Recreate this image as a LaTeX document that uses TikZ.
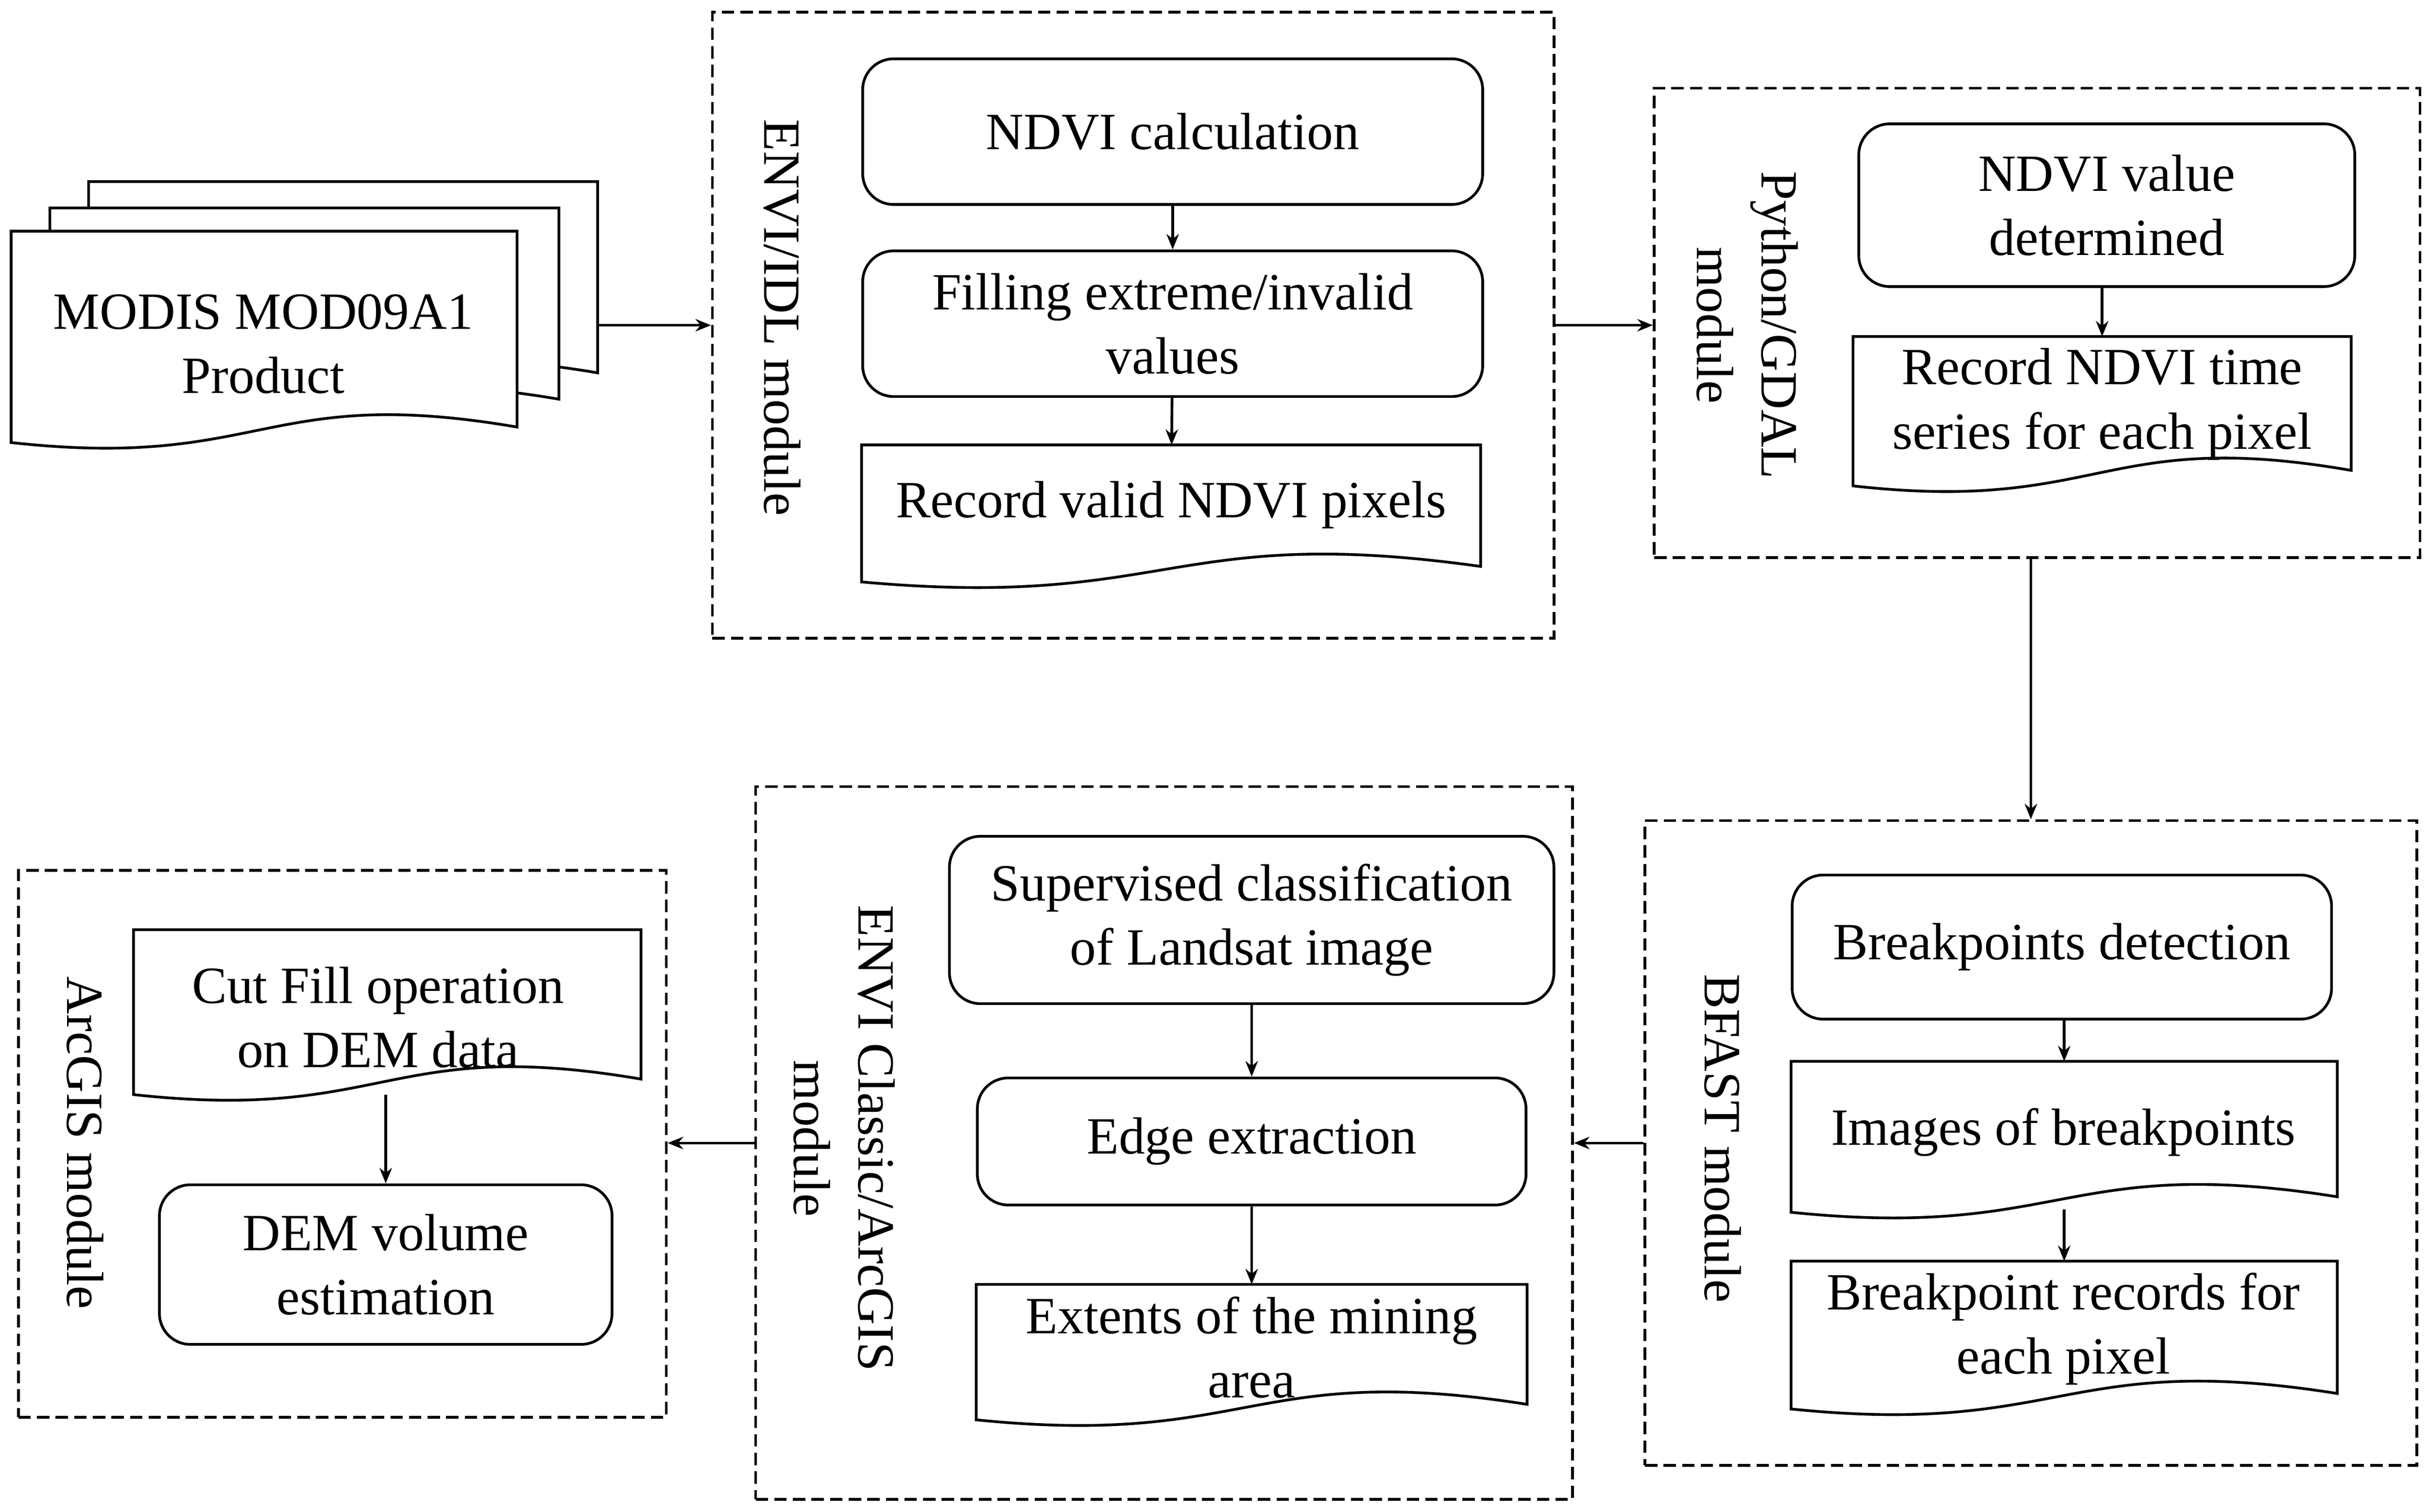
\documentclass[tikz,border=0pt]{standalone}
\usepackage{fontspec}
\setmainfont{Liberation Serif}
\usetikzlibrary{arrows.meta,calc}
\newcommand\docdraw[1]{\draw[fill=white,line width=0.5pt] (#1.north west) -- (#1.north east) -- (#1.south east)
  .. controls ($(#1.south east)!0.5!(#1.south west)+(0,-28)$) and ($(#1.south east)!0.5!(#1.south west)+(0,28)$) .. ($(#1.south west)+(0,10)$) -- cycle;}
\begin{document}
\begin{tikzpicture}[x=0.01cm,y=-0.01cm,
  font=\fontsize{9.6}{11.8}\selectfont,
  rbox/.style={draw,line width=0.5pt,rounded corners=0.2cm,align=center,inner sep=0},
  doc/.style={align=center,inner sep=0},
  mod/.style={draw,line width=0.5pt,dash pattern=on 0.08cm off 0.04cm,inner sep=0},
  lab/.style={rotate=-90,align=center},
  arr/.style={line width=0.5pt,-{Stealth[length=0.1cm,width=0.08cm]}}]
\useasboundingbox (0,0) rectangle (1568,976);
% MODIS stack
\node[doc,minimum width=3.27cm,minimum height=1.22cm] (m3) at (221.5,179) {};
\node[doc,minimum width=3.27cm,minimum height=1.22cm] (m2) at (196.5,196) {};
\node[doc,minimum width=3.25cm,minimum height=1.25cm] (m1) at (170.5,212.5) {};
\docdraw{m3}\docdraw{m2}\docdraw{m1}
\node[align=center] (mt) at (170,222) {MODIS MOD09A1\\Product};
% ENVI/IDL
\node[mod,minimum width=5.43cm,minimum height=4.04cm] (envi) at (731.5,210) {};
\node[lab] (envil) at (505,205) {ENVI/IDL module};
\node[rbox,minimum width=4cm,minimum height=0.94cm] (a1) at (757,85) {NDVI calculation};
\node[rbox,minimum width=4cm,minimum height=0.94cm] (a2) at (757,209) {Filling extreme/invalid\\values};
\node[doc,minimum width=3.98cm,minimum height=0.77cm] (a3) at (756,326.5) {};
\docdraw{a3}
\node (a3t) at (756,326) {Record valid NDVI pixels};
% Python/GDAL
\node[mod,minimum width=4.94cm,minimum height=3.03cm] (py) at (1315,208.5) {};
\node[lab] (pyl) at (1128,210) {Python/GDAL\\module};
\node[rbox,minimum width=3.2cm,minimum height=1.05cm] (b1) at (1360,132.5) {NDVI value\\determined};
\node[doc,minimum width=3.2cm,minimum height=0.85cm] (b2) at (1357,260.5) {};
\docdraw{b2}
\node[align=center] (b2t) at (1357,261) {Record NDVI time\\series for each pixel};
% BFAST
\node[mod,minimum width=4.98cm,minimum height=4.16cm] (bf) at (1311,738) {};
\node[lab] (bfl) at (1112,735) {BFAST module};
\node[rbox,minimum width=3.48cm,minimum height=0.93cm] (c1) at (1331,611.5) {Breakpoints detection};
\node[doc,minimum width=3.51cm,minimum height=0.86cm] (c2) at (1332.5,729) {};
\docdraw{c2}
\node (c2t) at (1332,731) {Images of breakpoints};
\node[doc,minimum width=3.51cm,minimum height=0.84cm] (c3) at (1332.5,857) {};
\docdraw{c3}
\node[align=center] (c3t) at (1332,858) {Breakpoint records for\\each pixel};
% ENVI Classic/ArcGIS
\node[mod,minimum width=5.27cm,minimum height=4.6cm] (cl) at (751.5,738) {};
\node[lab] (cll) at (545,735) {ENVI Classic/ArcGIS\\module};
\node[rbox,minimum width=3.9cm,minimum height=1.08cm] (d1) at (808,594) {Supervised classification\\of Landsat image};
\node[rbox,minimum width=3.54cm,minimum height=0.82cm] (d2) at (808,737) {Edge extraction};
\node[doc,minimum width=3.54cm,minimum height=0.76cm] (d3) at (808,868) {};
\docdraw{d3}
\node[align=center] (d3t) at (808,870) {Extents of the mining\\area};
% ArcGIS
\node[mod,minimum width=4.18cm,minimum height=3.53cm] (arc) at (221,738.5) {};
\node[lab] (arcl) at (55,738) {ArcGIS module};
\node[doc,minimum width=3.26cm,minimum height=0.95cm] (e1) at (250,648.5) {};
\docdraw{e1}
\node[align=center] (e1t) at (244,657) {Cut Fill operation\\on DEM data};
\node[rbox,minimum width=2.92cm,minimum height=1.03cm] (e2) at (249,816.5) {DEM volume\\estimation};
% arrows
\draw[arr] (envi.west -| m3.east) -- (envi.west);
\draw[arr] (envi.east) -- (envi.east -| py.west);
\draw[arr] (bf.north |- py.south) -- (bf.north);
\draw[arr] (bf.west) -- (cl.east);
\draw[arr] (cl.west) -- (cl.west -| arc.east);
\draw[arr] (a1) -- (a2);
\draw[arr] (a2) -- (a3);
\draw[arr] (b1.south -| b2.north) -- (b2.north);
\draw[arr] (c1.south -| c2.north) -- (c2.north);
\draw[arr] ($(c2.south)+(0,8)$) -- (c3.north);
\draw[arr] (d1) -- (d2);
\draw[arr] (d2) -- (d3);
\draw[arr] ($(e1.south -| e2.north)+(0,10)$) -- (e2.north);
\end{tikzpicture}
\end{document}
